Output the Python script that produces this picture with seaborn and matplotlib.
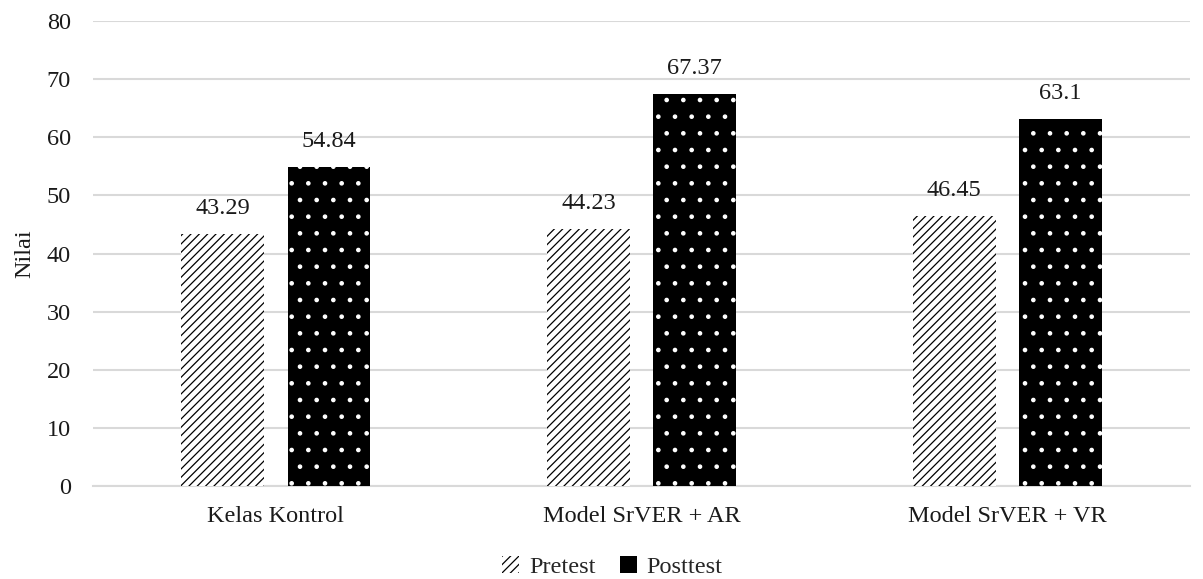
import matplotlib
matplotlib.use("Agg")
import matplotlib.pyplot as plt
import seaborn as sns
import pandas as pd
from matplotlib.patches import Patch

categories = ["Kelas Kontrol", "Model SrVER + AR", "Model SrVER + VR"]
pretest = [43.29, 44.23, 46.45]
posttest = [54.84, 67.37, 63.1]
series = ["Pretest", "Posttest"]

df = pd.DataFrame({
    "Kelas": categories * 2,
    "Tes": ["Pretest"] * 3 + ["Posttest"] * 3,
    "Nilai": pretest + posttest,
})

sns.set_theme(style="white")
plt.rcParams["font.family"] = ["Liberation Serif", "DejaVu Serif"]
plt.rcParams["hatch.linewidth"] = 0.9

fs = 17.5
txt = "#1a1a1a"

fig = plt.figure(figsize=(12.03, 5.79), dpi=100)
ax = fig.add_axes([0.0773, 0.160, 0.912, 0.804])

sns.barplot(data=df, x="Kelas", y="Nilai", hue="Tes", order=categories,
            hue_order=series, palette=["white", "black"], width=0.58, gap=0.22,
            legend=False, ax=ax, zorder=3)

# pretest: diagonal dash texture, posttest: black with small white dots
for cont, hatch, ec in zip(ax.containers, ["////", "."], ["black", "white"]):
    for bar in cont:
        bar.set_hatch(hatch)
        bar.set_edgecolor(ec)
        bar.set_linewidth(0)
    ax.bar_label(cont, labels=[f"{v:g}" for v in cont.datavalues],
                 padding=11, fontsize=fs, color=txt)

ax.set_ylim(0, 80)
ax.set_yticks(range(0, 81, 10))
ax.yaxis.grid(True, color="#d9d9d9", linewidth=1.5, zorder=0)
ax.set_axisbelow(True)
for side in ["top", "right", "left"]:
    ax.spines[side].set_visible(False)
ax.spines["bottom"].set_color("#d9d9d9")
ax.spines["bottom"].set_linewidth(1.5)
ax.tick_params(axis="y", length=0, labelsize=fs, colors=txt, pad=16)
ax.tick_params(axis="x", length=0, labelsize=fs, colors=txt, pad=14)
ax.set_xlabel("")
ax.set_ylabel("Nilai", fontsize=fs, color=txt, labelpad=8)

handles = [Patch(facecolor="white", edgecolor="black", hatch="////", linewidth=0),
           Patch(facecolor="black", edgecolor="white", hatch="", linewidth=0)]
fig.legend(handles, series, loc="center", bbox_to_anchor=(0.509, 0.02),
           ncol=2, frameon=False, fontsize=fs, handlelength=0.7, handleheight=0.7,
           handletextpad=0.4, columnspacing=1.0, borderpad=0)

fig.savefig("out.png", dpi=100)
